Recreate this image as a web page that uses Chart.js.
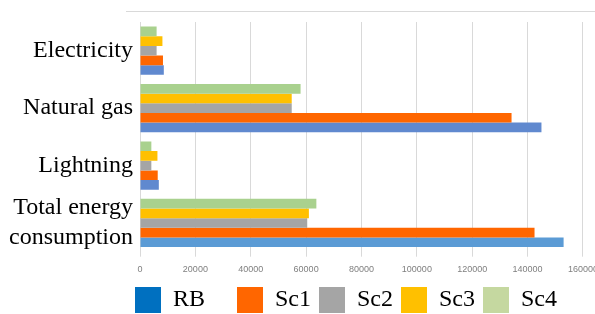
<!DOCTYPE html>
<html lang="en">
<head>
    <meta charset="UTF-8">
    <title>Energy consumption</title>
    <script src="https://cdn.jsdelivr.net/npm/chart.js"></script>
    <style>
        body {
            margin: 0;
            padding: 0;
            background-color: #ffffff;
        }

        #wrap {
            width: 595px;
            height: 314px;
            overflow: hidden;
        }
    </style>
</head>
<body>
    <div id="wrap">
        <canvas id="energyChart" width="605" height="323"></canvas>
    </div>

    <script>
        // categories (top to bottom)
        const categories = ['Electricity', 'Natural gas', 'Lightning', ['Total energy', 'consumption']];

        // series values, same order as categories
        const RB  = [8600, 145000, 6800, 153000];
        const Sc1 = [8300, 134200, 6400, 142500];
        const Sc2 = [6000, 54800, 4100, 60400];
        const Sc3 = [8100, 54800, 6300, 61000];
        const Sc4 = [6000, 58000, 4100, 63700];

        const seriesNames = ['RB', 'Sc1', 'Sc2', 'Sc3', 'Sc4'];
        const seriesData = [RB, Sc1, Sc2, Sc3, Sc4];

        // x axis ticks
        const xMin = 0;
        const xMax = 160000;
        const xStep = 20000;

        // colours
        const barColors = [
            ['#6089cf', '#6089cf', '#6089cf', '#5b9bd5'],
            '#ff6600', '#a5a5a5', '#ffc000', '#a9d18e'
        ];
        const legendColors = ['#0070c0', '#ff6600', '#a5a5a5', '#ffc000', '#c5d8a0'];

        const serif = "'Liberation Serif', 'Times New Roman', serif";

        // datasets go top->bottom inside each group, so Sc4 first and RB last
        const datasets = seriesNames.map((name, i) => ({
            label: name,
            data: seriesData[i],
            backgroundColor: barColors[i],
            borderWidth: 0,
            categoryPercentage: 0.84,
            barPercentage: 1.0
        })).reverse();

        // light line across the top + move the legend under the plot
        const frame = {
            id: 'frame',
            afterLayout(chart) {
                chart.legend.left = 127;
            },
            beforeDraw(chart) {
                const ctx = chart.ctx;
                ctx.save();
                ctx.strokeStyle = '#d9d9d9';
                ctx.lineWidth = 1;
                ctx.beginPath();
                ctx.moveTo(126, 11.5);
                ctx.lineTo(chart.width, 11.5);
                ctx.stroke();
                ctx.restore();
            }
        };

        const ctx = document.getElementById('energyChart').getContext('2d');
        new Chart(ctx, {
            type: 'bar',
            data: {
                labels: categories,
                datasets: datasets
            },
            plugins: [frame],
            options: {
                indexAxis: 'y',
                responsive: false,
                animation: false,
                layout: {
                    padding: { left: 0, right: 0, top: 22, bottom: 0 }
                },
                scales: {
                    x: {
                        min: xMin,
                        max: xMax,
                        grid: {
                            color: '#d9d9d9',
                            lineWidth: 1,
                            tickLength: 5
                        },
                        border: { display: false },
                        ticks: {
                            stepSize: xStep,
                            maxRotation: 0,
                            autoSkip: false,
                            padding: 7,
                            color: '#7f7f7f',
                            font: { family: "'Liberation Sans', Arial, sans-serif", size: 9 },
                            callback: v => String(v)
                        },
                        afterFit(scale) {
                            scale.height = 27.3;
                        }
                    },
                    y: {
                        grid: { display: false, drawTicks: false },
                        border: { display: false },
                        ticks: {
                            autoSkip: false,
                            padding: 7,
                            color: '#000000',
                            font: { family: serif, size: 24, lineHeight: 1.25 }
                        },
                        afterFit(scale) {
                            scale.width = 140;
                            scale.paddingTop = 0;
                            scale.paddingBottom = 0;
                        }
                    }
                },
                plugins: {
                    tooltip: { enabled: false },
                    legend: {
                        position: 'bottom',
                        align: 'start',
                        labels: {
                            boxWidth: 26,
                            boxHeight: 26,
                            padding: 8,
                            useBorderRadius: true,
                            borderRadius: 3,
                            color: '#000000',
                            font: { family: serif, size: 24 },
                            generateLabels() {
                                return seriesNames.map((name, i) => ({
                                    text: name === 'RB' ? name + '    ' : name,
                                    fillStyle: legendColors[i],
                                    strokeStyle: legendColors[i],
                                    lineWidth: 0,
                                    hidden: false,
                                    datasetIndex: seriesNames.length - 1 - i
                                }));
                            }
                        }
                    }
                }
            }
        });
    </script>
</body>
</html>
